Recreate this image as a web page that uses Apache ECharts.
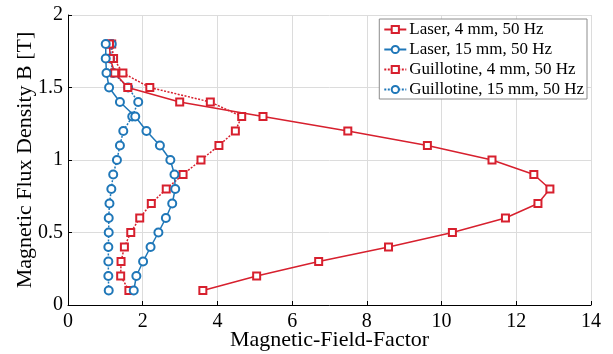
<!DOCTYPE html>
<html>
<head>
<meta charset="utf-8">
<script src="https://cdn.jsdelivr.net/npm/echarts@6/dist/echarts.min.js"></script>
<style>html,body{margin:0;padding:0;background:#fff;}#c{width:613px;height:354px;}</style>
</head>
<body>
<div id="c"></div>
<script>
const bLevels = [0.1,0.2,0.3,0.4,0.5,0.6,0.7,0.8,0.9,1.0,1.1,1.2,1.3,1.4,1.5,1.6,1.7,1.8];
const laser4 = [3.61,5.05,6.71,8.58,10.29,11.71,12.58,12.9,12.47,11.35,9.62,7.49,5.22,2.99,1.60,1.25,1.13,1.11];
const laser15 = [1.76,1.83,2.01,2.21,2.42,2.62,2.79,2.87,2.85,2.74,2.46,2.10,1.80,1.39,1.10,1.03,1.01,1.01];
const guil4 = [1.63,1.41,1.42,1.51,1.68,1.92,2.23,2.63,3.08,3.56,4.04,4.48,4.65,3.81,2.19,1.47,1.22,1.17];
const guil15 = [1.09,1.08,1.08,1.08,1.09,1.09,1.11,1.16,1.21,1.31,1.39,1.48,1.72,1.88,1.61,1.21,1.13,1.17];
const seriesNames = ['Laser, 4 mm, 50 Hz','Laser, 15 mm, 50 Hz','Guillotine, 4 mm, 50 Hz','Guillotine, 15 mm, 50 Hz'];

const RED = '#d7202e', BLUE = '#1f77b8';
const FONT = '"Liberation Serif", "DejaVu Serif", serif';
function pairs(xs){ return xs.map((x,i)=>[x,bLevels[i]]); }
function mk(name, xs, color, symbol, dotted, size){
  return {
    name, type:'line', data:pairs(xs), symbol, symbolSize:size,
    lineStyle:{color, width:1.5, type: dotted ? [2,1.5] : 'solid'},
    itemStyle:{color, borderWidth:1.3},
    emphasis:{disabled:true}, animation:false, z: dotted?2:3
  };
}
const chart = echarts.init(document.getElementById('c'));
chart.setOption({
  animation:false,
  grid:{left:68,right:22,top:15,bottom:49,containLabel:false,outerBoundsMode:'none'},
  legend:{
    orient:'vertical', right:26, top:19,
    backgroundColor:'#fff', borderColor:'#8c8c8c', borderWidth:1,
    padding:[2,3,1,4], itemGap:3, itemWidth:22, itemHeight:9,
    textStyle:{fontFamily:FONT, fontSize:17, color:'#000', padding:[0,0,0,-2]},
    data:seriesNames
  },
  xAxis:{
    type:'value', min:0, max:14, interval:2,
    name:'Magnetic-Field-Factor', nameLocation:'middle', nameGap:24, nameMoveOverlap:false,
    nameTextStyle:{fontFamily:FONT, fontSize:22, color:'#000'},
    axisLine:{show:true, lineStyle:{color:'#000', width:1}},
    axisTick:{show:true, inside:true, length:4, lineStyle:{color:'#000'}},
    axisLabel:{fontFamily:FONT, fontSize:20, color:'#000', margin:7},
    splitLine:{show:true, lineStyle:{color:'#dcdcdc', width:1}}
  },
  yAxis:{
    type:'value', min:0, max:2, interval:0.5,
    name:'Magnetic Flux Density B [T]', nameLocation:'middle', nameGap:32, nameMoveOverlap:false,
    nameTextStyle:{fontFamily:FONT, fontSize:22, color:'#000'},
    axisLine:{show:true, lineStyle:{color:'#000', width:1}},
    axisTick:{show:true, inside:true, length:4, lineStyle:{color:'#000'}},
    axisLabel:{fontFamily:FONT, fontSize:20, color:'#000', margin:5},
    splitLine:{show:true, lineStyle:{color:'#dcdcdc', width:1}}
  },
  series:[
    mk(seriesNames[2], guil4, RED, 'emptyRect', true, 7),
    mk(seriesNames[3], guil15, BLUE, 'emptyCircle', true, 8),
    mk(seriesNames[0], laser4, RED, 'emptyRect', false, 7),
    mk(seriesNames[1], laser15, BLUE, 'emptyCircle', false, 8)
  ]
});
</script>
</body>
</html>
